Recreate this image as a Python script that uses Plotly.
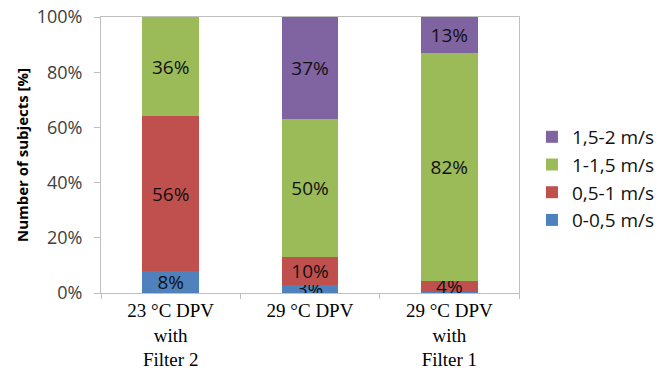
import plotly.graph_objects as go

categories = ["23 °C DPV<br>with<br>Filter 2", "29 °C DPV", "29 °C DPV<br>with<br>Filter 1"]
series_names = ["0-0,5 m/s", "0,5-1 m/s", "1-1,5 m/s", "1,5-2 m/s"]
v_0_05 = [8, 3, 0.5]
v_05_1 = [56, 10, 4]
v_1_15 = [36, 50, 82]
v_15_2 = [0, 37, 13]
colors = ["#4F81BD", "#C0504D", "#9BBB59", "#8064A2"]
y_ticks = [0, 20, 40, 60, 80, 100]
y_tick_text = ["0%", "20%", "40%", "60%", "80%", "100%"]

SANS = "Open Sans, Lato, sans-serif"

fig = go.Figure()
for i, (name, vals, col) in enumerate(zip(series_names, [v_0_05, v_05_1, v_1_15, v_15_2], colors)):
    fig.add_trace(go.Bar(
        x=categories, y=vals, name=name, legendgroup=name, legendrank=100 - i,
        marker=dict(color=col, line=dict(width=0)),
        text=[f"{v:.0f}%" if v >= 1 else "" for v in vals],
        textposition="inside", insidetextanchor="middle",
        constraintext="none",
        textfont=dict(family=SANS, size=19, color="#111"),
        hoverinfo="skip",
    ))

fig.update_layout(
    barmode="stack", barnorm="percent", bargap=0.594,
    width=659, height=371,
    margin=dict(l=101, r=140, t=17, b=78, autoexpand=False),
    paper_bgcolor="white", plot_bgcolor="white",
    showlegend=True,
    legend=dict(
        x=1.031, xanchor="left", y=0.415, yanchor="middle",
        traceorder="grouped", tracegroupgap=0,
        font=dict(family=SANS, size=19, color="#111"),
        itemwidth=30,
    ),
    xaxis=dict(
        automargin=False,
        showline=True, linecolor="#BFBFBF", linewidth=1, mirror=True,
        ticks="outside", tickson="boundaries", ticklen=5, tickcolor="#BFBFBF",
        tickfont=dict(family="Liberation Serif, Times New Roman, serif", size=19, color="#000"),
        showgrid=False,
    ),
    yaxis=dict(
        automargin=False,
        range=[0, 100], tickmode="array", tickvals=y_ticks, ticktext=y_tick_text,
        showline=True, linecolor="#BFBFBF", linewidth=1, mirror=True,
        ticks="outside", ticklen=6, tickcolor="#BFBFBF",
        ticklabelstandoff=8,
        tickfont=dict(family=SANS, size=18, color="#404040"),
        showgrid=False, zeroline=False,
        title=dict(text="<b>Number of subjects [%]</b>", standoff=4,
                   font=dict(family=SANS, size=15, color="#000")),
    ),
)

fig.write_html("out.html", config={"displayModeBar": False},
               post_script="document.body.style.margin='0';document.body.style.padding='0';document.body.style.overflow='hidden';")
